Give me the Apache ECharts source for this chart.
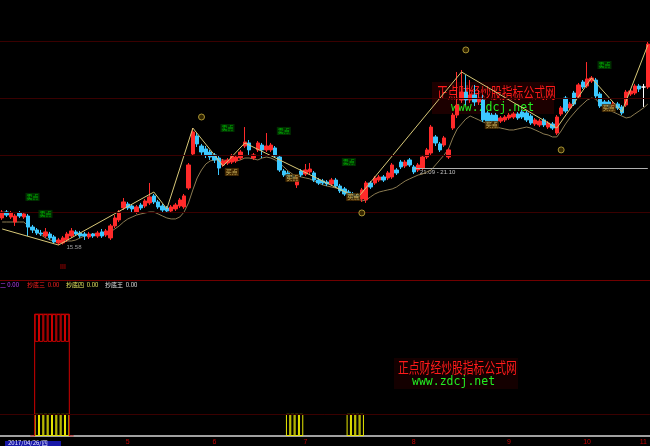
<!DOCTYPE html>
<html><head><meta charset="utf-8">
<script src="https://cdn.jsdelivr.net/npm/echarts@6/dist/echarts.min.js"></script>
<style>html,body{margin:0;padding:0;background:#000}#c{width:650px;height:446px}</style>
</head><body><div id="c"></div>
<script>
// ---- data ----
const openP=[17.52,17.95,17.59,17.23,17.88,17.59,17.66,16.87,16.66,16.44,
16.23,16.37,16.16,15.73,15.73,15.94,16.23,16.52,16.44,16.37,
16.16,16.37,16.23,16.52,16.30,16.09,16.95,17.38,18.24,18.52,
18.38,17.95,18.45,18.38,18.60,19.10,18.67,18.38,18.24,18.02,
18.17,18.38,18.31,19.67,22.11,23.40,22.68,22.47,22.25,22.04,
21.82,21.32,21.46,21.53,21.61,21.82,22.68,22.90,21.82,22.40,
22.75,22.40,22.40,22.54,21.89,20.89,20.75,20.53,19.89,20.89,
20.67,20.82,20.75,20.24,20.17,20.10,19.96,20.24,19.81,19.60,
19.38,19.24,19.17,18.88,18.81,20.03,20.03,20.24,20.46,20.39,
20.46,20.96,21.53,21.25,21.68,21.18,20.96,21.10,21.89,22.18,
23.33,22.83,22.75,21.89,23.97,24.90,25.98,26.55,25.98,26.34,
25.84,25.98,25.05,24.90,24.90,24.47,24.55,24.69,24.76,24.98,
25.12,25.05,24.83,24.26,24.19,24.55,24.04,24.26,23.61,24.98,
26.12,25.41,26.48,26.20,27.27,26.98,27.34,27.41,26.41,25.84,
25.84,25.48,25.69,25.48,25.62,26.41,26.48,26.98,26.91,26.91];
const closeP=[17.95,17.73,17.88,17.66,17.66,17.81,16.87,16.66,16.44,16.37,
16.52,16.09,15.80,15.94,16.09,16.37,16.59,16.37,16.23,16.23,
16.37,16.23,16.44,16.23,16.59,16.95,17.52,17.95,18.67,18.24,
18.17,18.31,18.24,18.74,19.03,18.67,18.31,18.09,18.02,18.31,
18.45,18.81,19.10,21.32,23.69,22.83,22.25,22.04,21.89,21.68,
21.10,21.61,21.68,21.97,21.89,22.25,22.97,22.40,22.04,22.90,
22.40,22.68,22.75,21.97,20.96,20.60,20.46,20.46,20.17,20.60,
20.96,21.03,20.24,20.03,20.03,19.96,20.24,19.81,19.46,19.24,
19.17,19.03,19.03,19.53,20.03,19.74,20.39,20.46,20.24,20.75,
21.32,20.75,21.18,21.53,21.32,20.82,21.32,21.89,22.40,24.04,
22.90,22.40,23.26,22.40,24.90,25.62,26.55,25.98,26.34,25.84,
26.12,24.55,24.40,24.47,24.40,24.69,24.76,24.90,24.98,24.69,
24.76,24.55,24.33,24.55,24.47,24.19,24.33,23.97,24.76,25.41,
25.19,25.69,25.69,27.06,26.91,27.49,27.56,26.27,25.55,25.62,
25.48,25.69,25.41,25.05,26.55,26.63,26.98,26.77,26.91,29.99];
const lowP=[17.38,17.59,17.45,16.95,17.52,17.45,16.23,16.44,16.30,16.23,
16.09,15.94,15.66,15.58,15.62,15.80,16.09,16.23,16.09,15.94,
16.01,16.09,16.09,16.09,16.16,15.94,16.80,17.23,18.09,18.09,
17.95,17.81,18.09,18.24,18.45,18.52,18.17,17.95,17.88,17.88,
18.02,18.24,18.17,19.53,21.97,22.61,22.04,21.82,21.68,21.46,
20.60,21.18,21.32,21.39,21.46,21.68,22.54,22.04,21.68,22.25,
21.82,22.25,22.25,21.82,20.82,20.46,20.32,20.32,19.67,20.46,
20.53,20.67,20.10,19.89,19.89,19.81,19.81,19.67,19.31,19.10,
19.03,18.88,18.81,18.67,18.60,19.60,19.89,20.10,20.10,20.24,
20.32,20.60,21.03,21.10,21.18,20.67,20.82,20.96,21.75,22.04,
22.68,22.25,22.61,21.75,23.83,24.69,25.77,25.62,25.77,25.55,
25.62,24.40,24.26,24.33,24.26,24.33,24.40,24.55,24.62,24.55,
24.62,24.40,24.19,24.12,24.04,24.04,23.90,23.83,23.47,24.83,
25.05,25.26,25.55,26.05,26.77,26.84,27.20,26.12,25.41,25.48,
25.33,25.33,25.26,24.90,25.48,26.27,26.34,26.55,25.48,26.77];
const highP=[18.09,18.09,18.02,17.81,18.02,17.95,17.81,17.02,16.80,16.66,
16.80,16.52,16.30,16.09,16.23,16.52,16.80,16.66,16.59,16.52,
16.52,16.44,16.59,16.73,16.73,17.09,17.73,18.09,18.95,18.67,
18.52,18.45,18.60,18.88,20.03,19.24,18.81,18.52,18.38,18.45,
18.60,18.95,19.24,21.46,23.97,23.61,22.83,22.68,22.40,22.18,
21.97,21.75,21.82,22.11,22.04,22.40,24.04,23.11,22.18,23.04,
22.90,23.61,22.90,22.68,22.04,21.03,20.89,20.67,20.53,21.03,
21.39,21.46,20.89,20.39,20.32,20.24,20.39,20.39,19.96,19.74,
19.53,19.38,19.31,19.67,20.17,20.17,20.53,20.60,20.60,20.89,
21.46,21.10,21.68,21.68,21.82,21.32,21.46,22.04,22.54,24.19,
23.47,22.97,23.40,22.54,25.05,27.99,28.13,27.77,27.41,27.06,
26.70,26.34,25.19,25.05,25.05,24.83,24.90,25.05,25.12,25.12,
25.26,25.19,24.98,24.69,24.62,24.69,24.47,24.40,24.90,25.55,
26.27,25.84,26.63,27.20,27.41,28.70,27.70,27.56,26.55,25.98,
25.98,25.84,25.84,25.62,26.70,26.77,27.13,27.13,27.13,30.14];
const lowerBand=[17.23,17.23,17.23,17.23,17.23,17.23,16.95,16.73,16.52,16.30,
16.09,15.94,15.87,15.80,15.80,15.87,15.87,15.94,16.09,16.23,
16.30,16.37,16.37,16.44,16.44,16.52,16.73,16.95,17.23,17.45,
17.59,17.73,17.81,17.88,17.95,17.95,17.81,17.66,17.52,17.45,
17.45,17.59,17.95,18.60,19.53,20.39,20.96,21.39,21.61,21.68,
21.68,21.68,21.61,21.61,21.61,21.68,21.82,21.82,21.75,21.68,
21.82,21.89,21.82,21.68,21.46,21.18,20.89,20.67,20.53,20.46,
20.39,20.32,20.17,20.03,19.89,19.81,19.74,19.67,19.60,19.53,
19.38,19.17,18.95,18.74,18.81,19.03,19.24,19.38,19.46,19.53,
19.60,19.74,19.96,20.17,20.32,20.46,20.60,20.67,20.82,20.96,
21.32,21.68,22.04,22.47,23.26,23.90,24.26,24.62,24.83,24.69,
24.55,24.40,24.26,24.19,24.04,23.97,23.90,23.83,23.83,23.90,
23.97,24.04,23.97,23.83,23.69,23.54,23.47,23.33,23.33,23.76,
24.26,24.69,25.05,25.41,25.69,25.98,26.12,26.05,25.69,25.41,
25.26,25.12,24.98,24.83,24.69,24.76,24.98,25.19,25.41,25.69];
// zigzag pivots [index, price]
const zigPivots=[[0,16.73],[13,15.58],[35,19.38],[38,18.17],[44,23.97],[51,21.25],[56,22.90],[82,18.95],[106,27.99],[128,23.97],[136,27.56],[143,25.12],[149,29.92]];
// signal labels [index, price]
const sellPts=[[7,19.03],[10,17.81],[52,23.97],[65,23.76],[80,21.53],[139,28.49]];
const buyPts=[[53,20.82],[67,20.39],[81,19.03],[113,24.19],[140,25.41]];
const circlePts=[[46,24.76],[107,29.57],[129,22.40],[83,17.88]];
const lowMark=[[13,15.58]];
const lastRange=['21.09','21.10'];
const priceLevels=[30.21,26.12,22.04,17.95];
// lower panel signals [index, value]
const yellowBars=[[8,20],[9,20],[10,20],[11,20],[12,20],[13,20],[14,20],[15,20],
[66,20],[67,20],[68,20],[69,20],[80,20],[81,20],[82,20],[83,20]];
const redTop=[[8,110],[9,110],[10,110],[11,110],[12,110],[13,110],[14,110],[15,110]];
const redStripeLow=85;
const tickLabels={29:'5',49:'6',70:'7',95:'8',117:'9',135:'10',148:'11'};
const categories=openP.map((_,i)=>String(i));

// ---- build ----
const candleData=openP.map((o,i)=>{
  const v=[o,closeP[i],lowP[i],highP[i]];
  if(o===closeP[i]) return {value:v,itemStyle:{color:'#fff',color0:'#fff',borderColor:'#fff',borderColor0:'#fff'}};
  return v;
});
const zigData=openP.map(()=>null);
zigPivots.forEach(([i,v])=>{zigData[i]=v;});
const redLine=openP.map(()=>0);
redTop.forEach(([i,v])=>{redLine[i]=v;});
const redLineTrim=redLine.map((v,i)=>(v>0||redLine[i-1]>0||redLine[i+1]>0)?v:null);

const chart=echarts.init(document.getElementById('c'),null,{renderer:'canvas'});
const CJK='"Noto Sans CJK SC", "Noto Sans", sans-serif';
chart.setOption({
  backgroundColor:'#000',
  animation:false,
  grid:[{left:0,right:0,top:0,height:281},{left:0,right:0,top:292,height:144}],
  xAxis:[
    {type:'category',data:categories,gridIndex:0,boundaryGap:true,axisLine:{show:false},axisTick:{show:false},axisLabel:{show:false},splitLine:{show:false}},
    {type:'category',data:categories,gridIndex:1,boundaryGap:true,axisLine:{show:true,lineStyle:{color:'#a0a0a0',width:2}},axisTick:{show:false},
     axisLabel:{show:true,color:'#c00000',fontSize:7,margin:3,interval:(idx)=>tickLabels[idx]!==undefined,formatter:(v,idx)=>tickLabels[idx]||''},splitLine:{show:false}}
  ],
  yAxis:[
    {type:'value',gridIndex:0,min:13.0,max:33.15,show:false,splitLine:{show:false}},
    {type:'value',gridIndex:1,min:0,max:130,show:false,splitLine:{show:false}}
  ],
  series:[
    {type:'candlestick',xAxisIndex:0,yAxisIndex:0,data:candleData,barWidth:3.6,
     itemStyle:{color:'#ff2a2a',color0:'#3cc8ff',borderColor:'#ff2a2a',borderColor0:'#3cc8ff',borderWidth:1},
     markLine:{silent:true,symbol:'none',label:{show:false},
       data:[
         ...priceLevels.map(p=>({yAxis:p,lineStyle:{color:'#3a0000',width:1,type:'solid'}})),
         [{coord:[95,21.10],lineStyle:{color:'#b0b0b0',width:1,type:'solid'}},{coord:[149,21.10]}]
       ]}
    },
    {type:'line',xAxisIndex:0,yAxisIndex:0,data:lowerBand,symbol:'none',lineStyle:{color:'#8c7c52',width:1},z:1},
    {type:'line',xAxisIndex:0,yAxisIndex:0,data:zigData,connectNulls:true,symbol:'none',lineStyle:{color:'#d8c878',width:1},z:3},
    {type:'scatter',xAxisIndex:0,yAxisIndex:0,data:sellPts,symbolSize:0,z:5,
     label:{show:true,position:'inside',formatter:'卖点',color:'#00d000',fontSize:6,fontFamily:CJK,backgroundColor:'#003800',padding:[1,1]}},
    {type:'scatter',xAxisIndex:0,yAxisIndex:0,data:buyPts,symbolSize:0,z:5,
     label:{show:true,position:'inside',formatter:'买点',color:'#e8d070',fontSize:6,fontFamily:CJK,backgroundColor:'#503000',padding:[1,1]}},
    {type:'scatter',xAxisIndex:0,yAxisIndex:0,data:circlePts,symbol:'circle',symbolSize:6,z:5,
     itemStyle:{color:'#403000',borderColor:'#c8b040',borderWidth:1}},
    {type:'scatter',xAxisIndex:0,yAxisIndex:0,data:lowMark,symbolSize:0,z:5,
     label:{show:true,position:'right',distance:8,formatter:(p)=>p.value[1].toFixed(2),color:'#c0c0c0',fontSize:6,offset:[0,2]}},
    {type:'bar',xAxisIndex:1,yAxisIndex:1,data:yellowBars,barWidth:'100%',barGap:'-100%',
     itemStyle:{color:'rgba(0,0,0,0)',borderColor:'#e8e800',borderWidth:1}},
    {type:'bar',xAxisIndex:1,yAxisIndex:1,stack:'r',data:redTop.map(([i])=>[i,redStripeLow]),barWidth:'100%',
     itemStyle:{color:'rgba(0,0,0,0)'}},
    {type:'bar',xAxisIndex:1,yAxisIndex:1,stack:'r',data:redTop.map(([i,v])=>[i,v-redStripeLow]),barWidth:'100%',
     itemStyle:{color:'rgba(0,0,0,0)',borderColor:'#d00000',borderWidth:1}},
    {type:'line',xAxisIndex:1,yAxisIndex:1,data:redLineTrim,step:'middle',symbol:'none',lineStyle:{color:'#d00000',width:1},
     markLine:{silent:true,symbol:'none',label:{show:false},data:[{yAxis:20,lineStyle:{color:'#3a0000',width:1,type:'solid'}}]}}
  ],
  graphic:[
    {type:'line',shape:{x1:0,y1:280.5,x2:650,y2:280.5},style:{stroke:'#700000',lineWidth:1},silent:true},
    {type:'text',x:420,y:169,style:{text:lastRange.join(' - '),fill:'#c0c0c0',font:'6px sans-serif'}},
    {type:'text',x:0,y:282,style:{text:'二 0.00',fill:'#c040ff',font:'6px "Noto Sans CJK SC"'}},
    {type:'text',x:27,y:282,style:{text:'抄底三  0.00',fill:'#ff2020',font:'6px "Noto Sans CJK SC"'}},
    {type:'text',x:66,y:282,style:{text:'抄底四  0.00',fill:'#e8e860',font:'6px "Noto Sans CJK SC"'}},
    {type:'text',x:105,y:282,style:{text:'抄底王  0.00',fill:'#e0e0e0',font:'6px "Noto Sans CJK SC"'}},
    {type:'group',children:[
      {type:'rect',shape:{x:432,y:82,width:122,height:32},style:{fill:'#1c0000'}},
      {type:'text',x:437,y:85,scaleX:0.72,style:{text:'正点财经炒股指标公式网',fill:'#ff1a1a',font:'15px "Noto Sans CJK SC"'}},
      {type:'text',x:451,y:102,style:{text:'www.zdcj.net',fill:'#22ee22',font:'11.5px "DejaVu Sans Mono"'}}
    ]},
    {type:'group',children:[
      {type:'rect',shape:{x:394,y:358,width:124,height:31},style:{fill:'#140000'}},
      {type:'text',x:398,y:360,scaleX:0.72,style:{text:'正点财经炒股指标公式网',fill:'#ff1a1a',font:'15px "Noto Sans CJK SC"'}},
      {type:'text',x:412,y:376,style:{text:'www.zdcj.net',fill:'#22ee22',font:'11.5px "DejaVu Sans Mono"'}}
    ]},
    {type:'group',children:[
      {type:'rect',shape:{x:5,y:441,width:56,height:6},style:{fill:'#1818a8'}},
      {type:'text',x:8,y:440,style:{text:'2017/04/26/四',fill:'#e0e0ff',font:'6px "Noto Sans CJK SC"'}}
    ]},
    {type:'text',x:60,y:264,style:{text:'III',fill:'#d00000',font:'7px sans-serif'}}
  ]
});
</script></body></html>
